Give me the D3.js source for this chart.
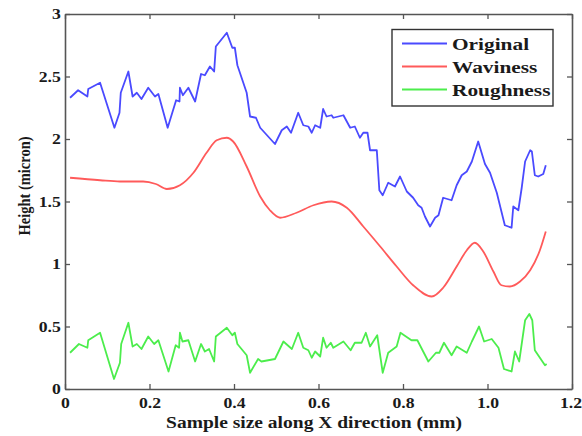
<!DOCTYPE html>
<html>
<head>
<meta charset="utf-8">
<script src="https://cdn.jsdelivr.net/npm/d3@7"></script>
<style>
  html, body { margin: 0; padding: 0; background: #fff; }
  svg { display: block; }
  text { font-family: "Liberation Serif", "DejaVu Serif", serif; font-weight: bold; fill: #1a1a1a; }
</style>
</head>
<body>
<svg class="svg" width="582" height="436"></svg>
<script>
// series: [x (mm), height (micron)]
const original = [
  [0.012, 2.33], [0.031, 2.39], [0.053, 2.34], [0.055, 2.40], [0.083, 2.45], [0.117, 2.09],
  [0.129, 2.21], [0.132, 2.37], [0.150, 2.54], [0.160, 2.34], [0.170, 2.37], [0.181, 2.32],
  [0.197, 2.41], [0.213, 2.34], [0.221, 2.36], [0.243, 2.09], [0.263, 2.31], [0.271, 2.30],
  [0.272, 2.41], [0.279, 2.35], [0.292, 2.41], [0.308, 2.30], [0.322, 2.52], [0.331, 2.51],
  [0.343, 2.58], [0.353, 2.54], [0.357, 2.74], [0.383, 2.85], [0.396, 2.73], [0.402, 2.73],
  [0.408, 2.59], [0.430, 2.37], [0.438, 2.18], [0.452, 2.17], [0.462, 2.09], [0.497, 1.96],
  [0.513, 2.07], [0.525, 2.10], [0.535, 2.05], [0.552, 2.21], [0.564, 2.11], [0.576, 2.10],
  [0.584, 2.05], [0.592, 2.11], [0.604, 2.09], [0.611, 2.24], [0.619, 2.18], [0.631, 2.19],
  [0.635, 2.17], [0.659, 2.19], [0.675, 2.09], [0.686, 2.10], [0.698, 2.01], [0.706, 2.05],
  [0.716, 2.05], [0.722, 1.91], [0.738, 1.91], [0.744, 1.59], [0.752, 1.55], [0.765, 1.65],
  [0.781, 1.62], [0.793, 1.70], [0.809, 1.58], [0.824, 1.53], [0.836, 1.47], [0.844, 1.45],
  [0.852, 1.38], [0.864, 1.30], [0.876, 1.37], [0.884, 1.39], [0.895, 1.53], [0.915, 1.51],
  [0.927, 1.63], [0.939, 1.71], [0.951, 1.74], [0.963, 1.82], [0.978, 1.98], [0.994, 1.80],
  [1.006, 1.73], [1.022, 1.57], [1.041, 1.31], [1.057, 1.29], [1.061, 1.46], [1.073, 1.43],
  [1.081, 1.61], [1.089, 1.82], [1.101, 1.91], [1.105, 1.90], [1.112, 1.71], [1.120, 1.70],
  [1.132, 1.72], [1.138, 1.79]
];

const waviness = [
  [0.012, 1.69], [0.083, 1.67], [0.130, 1.66], [0.185, 1.66], [0.215, 1.64], [0.241, 1.60],
  [0.272, 1.63], [0.304, 1.73], [0.335, 1.89], [0.359, 1.99], [0.383, 2.01], [0.398, 1.98],
  [0.430, 1.78], [0.462, 1.54], [0.485, 1.43], [0.509, 1.37], [0.548, 1.41], [0.588, 1.47],
  [0.631, 1.50], [0.667, 1.45], [0.706, 1.30], [0.746, 1.14], [0.785, 0.98], [0.824, 0.83],
  [0.868, 0.74], [0.895, 0.81], [0.927, 0.98], [0.951, 1.11], [0.970, 1.17], [0.990, 1.10],
  [1.014, 0.94], [1.033, 0.83], [1.053, 0.82], [1.077, 0.86], [1.101, 0.95], [1.124, 1.11],
  [1.138, 1.26]
];

const roughness = [
  [0.012, 0.29], [0.033, 0.36], [0.053, 0.33], [0.055, 0.39], [0.083, 0.45], [0.116, 0.08],
  [0.130, 0.21], [0.133, 0.36], [0.150, 0.53], [0.160, 0.34], [0.170, 0.36], [0.181, 0.32],
  [0.197, 0.42], [0.211, 0.36], [0.221, 0.39], [0.245, 0.14], [0.262, 0.35], [0.270, 0.33],
  [0.272, 0.45], [0.278, 0.38], [0.292, 0.39], [0.308, 0.22], [0.322, 0.36], [0.331, 0.30],
  [0.341, 0.32], [0.353, 0.22], [0.357, 0.42], [0.383, 0.49], [0.396, 0.43], [0.402, 0.45],
  [0.408, 0.36], [0.430, 0.27], [0.438, 0.13], [0.457, 0.24], [0.465, 0.22], [0.497, 0.24],
  [0.517, 0.38], [0.537, 0.32], [0.552, 0.45], [0.564, 0.33], [0.576, 0.31], [0.584, 0.25],
  [0.592, 0.30], [0.604, 0.26], [0.611, 0.41], [0.619, 0.33], [0.629, 0.37], [0.635, 0.33],
  [0.659, 0.38], [0.676, 0.31], [0.686, 0.37], [0.702, 0.37], [0.712, 0.45], [0.722, 0.34],
  [0.739, 0.43], [0.752, 0.13], [0.765, 0.29], [0.785, 0.34], [0.794, 0.45], [0.820, 0.39],
  [0.834, 0.39], [0.860, 0.22], [0.878, 0.29], [0.886, 0.29], [0.897, 0.37], [0.915, 0.27],
  [0.927, 0.34], [0.951, 0.29], [0.963, 0.38], [0.980, 0.50], [0.992, 0.38], [1.010, 0.40],
  [1.026, 0.33], [1.039, 0.16], [1.057, 0.14], [1.065, 0.30], [1.075, 0.22], [1.089, 0.55],
  [1.099, 0.60], [1.106, 0.55], [1.112, 0.31], [1.136, 0.19], [1.140, 0.20]
];

const seriesNames = ["Original", "Waviness", "Roughness"];
const seriesColors = ["#4a4aff", "#ff5a5a", "#4ced4c"];
const xTicks = [0, 0.2, 0.4, 0.6, 0.8, 1.0, 1.2];
const yTicks = [0, 0.5, 1, 1.5, 2, 2.5, 3];

const svg = d3.select(".svg");
const plotLeft = 65, plotRight = 572, plotTop = 14, plotBottom = 389;
const stretch = 1.22; // the picture's lettering is a little wide

const x = d3.scaleLinear().domain([0, 1.2]).range([plotLeft, plotRight]);
const y = d3.scaleLinear().domain([0, 3]).range([plotBottom, plotTop]);

// frame and ticks (ticks point inwards, on all four sides)
function styleAxis(g) {
    g.selectAll("path.domain").attr("stroke", "#555").attr("stroke-width", 1.6);
    g.selectAll(".tick line").attr("stroke", "#555").attr("stroke-width", 1.3);
    g.selectAll(".tick text")
        .attr("font-size", 14.5)
        .attr("font-family", null)
        .attr("fill", "#1a1a1a")
        .attr("transform", `scale(${stretch},1)`);
}

const xAxisG = svg.append("g")
    .attr("transform", `translate(0,${plotBottom})`)
    .call(d3.axisBottom(x).tickValues(xTicks).tickSizeInner(-5).tickSizeOuter(0).tickPadding(8.5)
        .tickFormat(d => d === 0 ? "0" : d3.format(".1f")(d)))
    .call(styleAxis);

// the last label sits at the page edge; keep it inside
xAxisG.selectAll(".tick text")
    .filter(d => d === 1.2)
    .attr("text-anchor", "end")
    .attr("x", 9.5 / stretch);

svg.append("g")
    .attr("transform", `translate(${plotLeft},0)`)
    .call(d3.axisLeft(y).tickValues(yTicks).tickSizeInner(-5).tickSizeOuter(0).tickPadding(3.5)
        .tickFormat(d => String(d)))
    .call(styleAxis);

svg.append("g")
    .attr("transform", `translate(0,${plotTop})`)
    .call(d3.axisTop(x).tickValues(xTicks).tickSizeInner(-5).tickSizeOuter(0).tickFormat(""))
    .call(styleAxis);

svg.append("g")
    .attr("transform", `translate(${plotRight},0)`)
    .call(d3.axisRight(y).tickValues(yTicks).tickSizeInner(-5).tickSizeOuter(0).tickFormat(""))
    .call(styleAxis);

// curves
const line = d3.line()
    .x(d => x(d[0]))
    .y(d => y(d[1]));

const smooth = d3.line()
    .x(d => x(d[0]))
    .y(d => y(d[1]))
    .curve(d3.curveMonotoneX);

svg.append("path").datum(original)
    .attr("d", line).attr("fill", "none")
    .attr("stroke", seriesColors[0]).attr("stroke-width", 1.8).attr("stroke-linejoin", "round");

svg.append("path").datum(waviness)
    .attr("d", smooth).attr("fill", "none")
    .attr("stroke", seriesColors[1]).attr("stroke-width", 1.8);

svg.append("path").datum(roughness)
    .attr("d", line).attr("fill", "none")
    .attr("stroke", seriesColors[2]).attr("stroke-width", 1.8).attr("stroke-linejoin", "round");

// legend
const legend = svg.append("g");
legend.append("rect")
    .attr("x", 392).attr("y", 29.5).attr("width", 161).attr("height", 76.5)
    .attr("fill", "#fff").attr("stroke", "#333").attr("stroke-width", 1.4);

const rows = legend.selectAll(".row")
    .data(seriesNames)
    .enter()
    .append("g")
    .attr("class", "row")
    .attr("transform", (d, i) => `translate(0,${43.5 + i * 23})`);

rows.append("line")
    .attr("x1", 402).attr("x2", 447)
    .attr("stroke", (d, i) => seriesColors[i]).attr("stroke-width", 1.8);

rows.append("text")
    .attr("transform", `translate(452,6) scale(${stretch},1)`)
    .attr("font-size", 17.5)
    .text(d => d);

// axis titles
svg.append("text")
    .attr("transform", `translate(314,428) scale(${stretch},1)`)
    .attr("text-anchor", "middle")
    .attr("font-size", 16)
    .text("Sample size along X direction (mm)");

svg.append("text")
    .attr("transform", `translate(30,186) scale(${stretch},1) rotate(-90)`)
    .attr("text-anchor", "middle")
    .attr("font-size", 14.5)
    .text("Height (micron)");
</script>
</body>
</html>
